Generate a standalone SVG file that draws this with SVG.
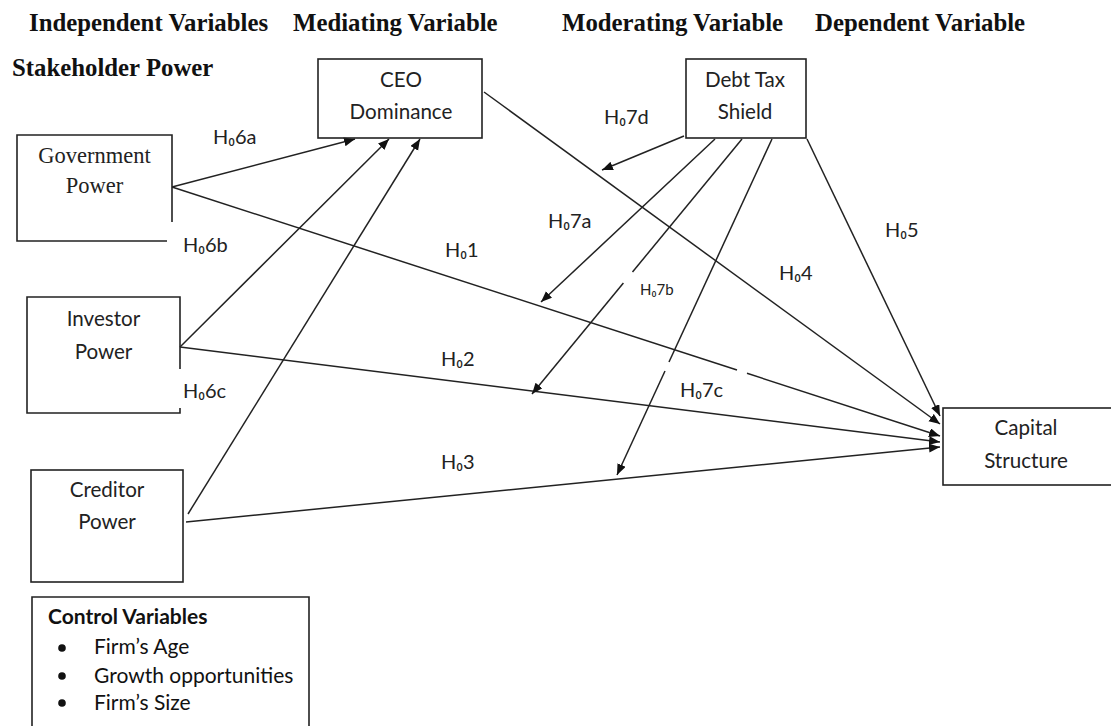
<svg xmlns="http://www.w3.org/2000/svg" width="1111" height="726" viewBox="0 0 1111 726">
<defs>
<style>
.hd{font-family:"Liberation Serif","Times New Roman",serif;font-weight:bold;font-size:24.8px;fill:#111}
.nt{font-family:Lato,"Noto Sans",sans-serif;font-size:20.6px;fill:#222;text-anchor:middle}
.st{font-family:"Liberation Serif","Times New Roman",serif;font-size:22.5px;fill:#222;text-anchor:middle}
.lb{font-family:Lato,"Noto Sans",sans-serif;font-size:20px;fill:#222}
.sm{font-size:15px}
.bx{fill:none;stroke:#222;stroke-width:1.6}
.ln{fill:none;stroke:#222;stroke-width:1.5}
.cv{font-family:Lato,"Noto Sans",sans-serif;font-size:21px;fill:#111}
</style>
<marker id="ah" markerUnits="userSpaceOnUse" markerWidth="12" markerHeight="10" refX="11" refY="4.5" orient="auto">
<path d="M0,0 L11,4.5 L0,9 z" fill="#111"/>
</marker>
</defs>
<rect width="1111" height="726" fill="#fff"/>

<g id="headings">
<text class="hd" x="29" y="31">Independent Variables</text>
<text class="hd" x="293" y="31">Mediating Variable</text>
<text class="hd" x="562" y="31">Moderating Variable</text>
<text class="hd" x="815" y="31">Dependent Variable</text>
<text class="hd" x="12" y="76">Stakeholder Power</text>
</g>

<g id="connectors">
<line class="ln" x1="172" y1="187" x2="355" y2="139" marker-end="url(#ah)"/>
<line class="ln" x1="180" y1="347" x2="389" y2="139" marker-end="url(#ah)"/>
<line class="ln" x1="188" y1="514" x2="420" y2="139" marker-end="url(#ah)"/>
<line class="ln" x1="172" y1="187" x2="737" y2="370"/>
<line class="ln" x1="747" y1="373.3" x2="940" y2="436" marker-end="url(#ah)"/>
<line class="ln" x1="180" y1="347" x2="940" y2="442" marker-end="url(#ah)"/>
<line class="ln" x1="186" y1="522" x2="940" y2="447" marker-end="url(#ah)"/>
<line class="ln" x1="484" y1="92" x2="940" y2="424" marker-end="url(#ah)"/>
<line class="ln" x1="807" y1="139" x2="940" y2="416" marker-end="url(#ah)"/>
<line class="ln" x1="684" y1="136" x2="602" y2="170" marker-end="url(#ah)"/>
<line class="ln" x1="715" y1="139" x2="541" y2="302" marker-end="url(#ah)"/>
<line class="ln" x1="742" y1="139" x2="632.5" y2="272"/>
<line class="ln" x1="623.4" y1="283" x2="532" y2="394" marker-end="url(#ah)"/>
<line class="ln" x1="772" y1="139" x2="669" y2="362"/>
<line class="ln" x1="665" y1="371" x2="617" y2="475" marker-end="url(#ah)"/>
</g>

<g id="ceo">
<rect class="bx" x="318" y="59" width="164" height="79"/>
<text class="nt" x="401" y="87">CEO</text>
<text class="nt" x="401" y="119">Dominance</text>
</g>

<g id="debt">
<rect class="bx" x="686" y="59" width="120" height="79"/>
<text class="nt" x="745" y="87">Debt Tax</text>
<text class="nt" x="745" y="119">Shield</text>
</g>

<g id="government">
<path class="bx" d="M172,222 V135 H17 V241 H167"/>
<text class="st" x="94.5" y="163">Government</text>
<text class="st" x="94.5" y="193">Power</text>
</g>

<g id="investor">
<path class="bx" d="M180,369 V297 H27 V413 H180 V408"/>
<text class="nt" x="103.5" y="326">Investor</text>
<text class="nt" x="103.5" y="359">Power</text>
</g>

<g id="creditor">
<rect class="bx" x="31" y="470" width="152" height="112"/>
<text class="nt" x="107" y="497">Creditor</text>
<text class="nt" x="107" y="529">Power</text>
</g>

<g id="capital">
<rect class="bx" x="943" y="408" width="175" height="77"/>
<text class="nt" x="1026" y="435">Capital</text>
<text class="nt" x="1026" y="468">Structure</text>
</g>

<g id="controls">
<path class="bx" d="M32,730 V597 H309 V730"/>
<text class="cv" x="48" y="624" font-weight="bold">Control Variables</text>
<circle cx="62" cy="648" r="3.8" fill="#111"/>
<circle cx="62" cy="676" r="3.8" fill="#111"/>
<circle cx="62" cy="703" r="3.8" fill="#111"/>
<text class="cv" x="94" y="654">Firm’s Age</text>
<text class="cv" x="94" y="683">Growth opportunities</text>
<text class="cv" x="94" y="710">Firm’s Size</text>
</g>

<g id="labels">
<text class="lb" x="213" y="144">H₀6a</text>
<text class="lb" x="183" y="252">H₀6b</text>
<text class="lb" x="183" y="398">H₀6c</text>
<text class="lb" x="445" y="257">H₀1</text>
<text class="lb" x="441" y="366">H₀2</text>
<text class="lb" x="441" y="469">H₀3</text>
<text class="lb" x="779" y="280">H₀4</text>
<text class="lb" x="885" y="237">H₀5</text>
<text class="lb" x="548" y="228">H₀7a</text>
<text class="lb sm" x="640" y="295">H₀7b</text>
<text class="lb" x="680" y="397">H₀7c</text>
<text class="lb" x="604" y="124">H₀7d</text>
</g>
</svg>
